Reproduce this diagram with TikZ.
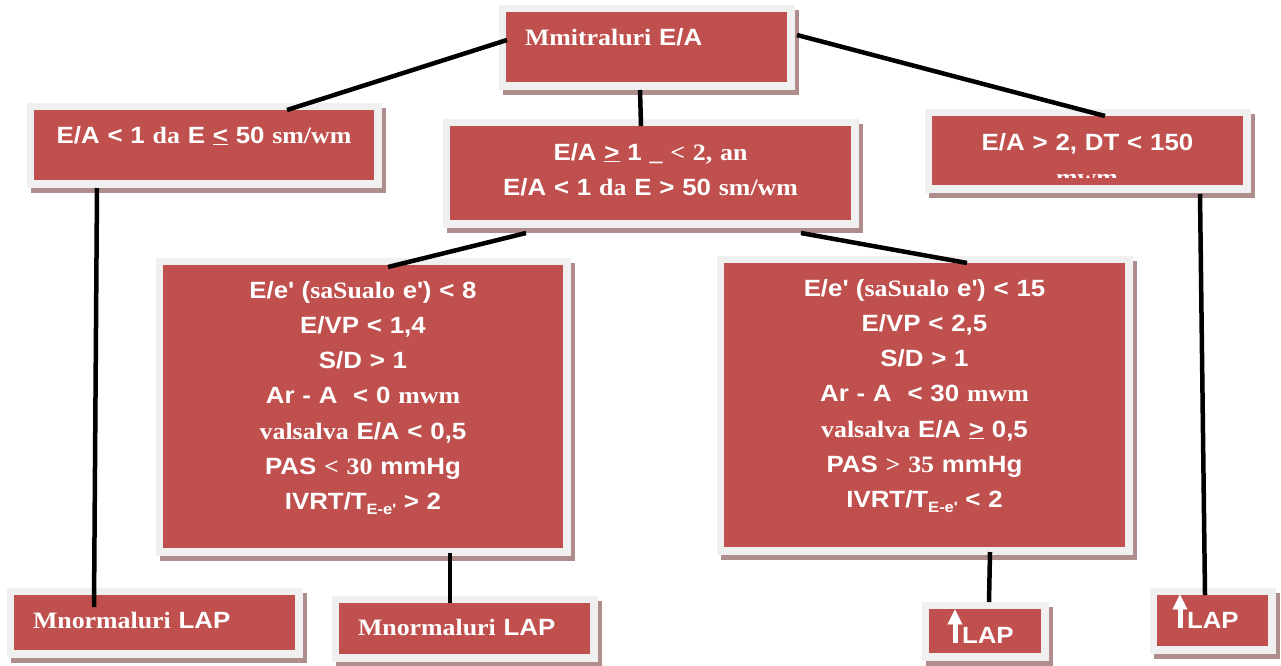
\documentclass[tikz,border=0pt]{standalone}
\usepackage{fontspec}
\usepackage{graphicx}
\setmainfont[FakeStretch=1.1]{Liberation Sans}
\newfontfamily\tms[FakeStretch=1.1]{Liberation Serif}
\newfontfamily\arrowfont{DejaVu Sans}
\definecolor{boxred}{HTML}{C0504D}
\definecolor{framegray}{HTML}{F0F0F0}
\definecolor{shadowred}{HTML}{B08D8D}
\newcommand{\ap}{\textquotesingle}
\newcommand{\ule}{\underline{<}}
\newcommand{\uge}{\underline{>}}
\newcommand{\lowsub}[1]{\raisebox{-5pt}{\fontsize{15}{15}\selectfont #1}}
\newcommand{\uparr}{\makebox[16pt][c]{\rule{5pt}{22pt}}\kern-16pt\makebox[16pt][c]{\raisebox{21pt}{\arrowfont\fontsize{20}{20}\selectfont ▲}}\kern-1pt}

\begin{document}
\begin{tikzpicture}[x=1pt,y=-1pt]
        \tikzstyle{panel}=[anchor=north west, fill=boxred, text=white, inner ysep=0pt, inner xsep=5pt, outer sep=0pt,
            font=\bfseries\fontsize{23.5}{35.3}\selectfont, align=center,
            preaction={draw=shadowred, line width=15pt, transform canvas={shift={(4pt,-5pt)}}},
            preaction={draw=framegray, line width=15pt}]
        \tikzstyle{link}=[line width=4.5pt]

        \useasboundingbox (0,0) rectangle (1281,665);

        % top row
        \node (mitral) [panel, inner xsep=19pt, text width=243pt, text height=33pt, text depth=37pt, align=left] at (506,12) {{\tms Mmitraluri} E/A};
        \node (lt) [panel, text width=330pt, text height=33pt, text depth=37pt] at (34,110) {E/A < 1 {\tms da} E \ule{} 50 {\tms sm/wm}};
        \node (mid) [panel, text width=391pt, text height=34pt, text depth=60pt] at (450,126) {E/A \uge{} 1 {\tms \_ < 2, an}\\E/A < 1 {\tms da} E > 50 {\tms sm/wm}};
        \node (rt) [panel, text width=301pt, text height=34pt, text depth=35pt] at (932,116) {E/A > 2, DT < 150};
        \begin{scope}
            \clip (932,116) rectangle (1243,177);
            \node (mwm) [text=white, inner sep=0pt, anchor=base, font=\bfseries\fontsize{23.5}{35.3}\selectfont] at (1087,185) {\tms mwm};
        \end{scope}

        % criteria
        \node (lbig) [panel, text width=390pt, text height=33pt, text depth=250pt] at (163,265) {E/e\ap{} ({\tms saSualo} e\ap) < 8\\E/VP < 1,4\\S/D > 1\\Ar - A \ < 0 {\tms mwm}\\{\tms valsalva} E/A < 0,5\\PAS {\tms < 30} mmHg\\IVRT/T\lowsub{E-e\ap} > 2};
        \node (rbig) [panel, text width=391pt, text height=33pt, text depth=251pt] at (724,263) {E/e\ap{} ({\tms saSualo} e\ap) < 15\\E/VP < 2,5\\S/D > 1\\Ar - A \ < 30 {\tms mwm}\\{\tms valsalva} E/A \uge{} 0,5\\PAS {\tms > 35} mmHg\\IVRT/T\lowsub{E-e\ap} < 2};

        % outcomes
        \node (nl) [panel, inner xsep=19pt, text width=243pt, text height=33pt, text depth=22pt, align=left] at (14,595) {{\tms Mnormaluri} LAP};
        \node (nm) [panel, inner xsep=19pt, text width=213pt, text height=32pt, text depth=19pt, align=left] at (339,603) {{\tms Mnormaluri} LAP};
        \node (up1) [panel, inner xsep=18pt, text width=76pt, text height=34pt, text depth=10pt, align=left] at (929,609) {\uparr LAP};
        \node (up2) [panel, inner xsep=15pt, text width=81pt, text height=33pt, text depth=18pt, align=left] at (1157,595) {\uparr LAP};

        \draw[link] ([xshift=1pt,yshift=7pt]mitral.west) -- ([xshift=83pt]lt.north);
        \draw[link] ([xshift=-6.5pt,yshift=-8pt]mitral.south) -- ([xshift=-9.5pt]mid.north);
        \draw[link] ([xshift=10pt,yshift=12pt]mitral.east) -- ([xshift=17.5pt]rt.north);
        \draw[link] ([xshift=-107pt,yshift=-8pt]lt.south) -- ([xshift=-60.5pt,yshift=-12pt]nl.north);
        \draw[link] ([xshift=-124.5pt,yshift=-13pt]mid.south) -- ([xshift=25pt,yshift=-2pt]lbig.north);
        \draw[link] ([xshift=150.5pt,yshift=-13pt]mid.south) -- ([xshift=42.5pt]rbig.north);
        \draw[link] ([xshift=112.5pt,yshift=-9pt]rt.south) -- ([xshift=-7.5pt]up2.north);
        \draw[link] ([xshift=87pt,yshift=-5pt]lbig.south) -- ([xshift=-14.5pt]nm.north);
        \draw[link] ([xshift=65.5pt,yshift=-5pt]rbig.south) -- ([xshift=4pt,yshift=7pt]up1.north);
\end{tikzpicture}
\end{document}
